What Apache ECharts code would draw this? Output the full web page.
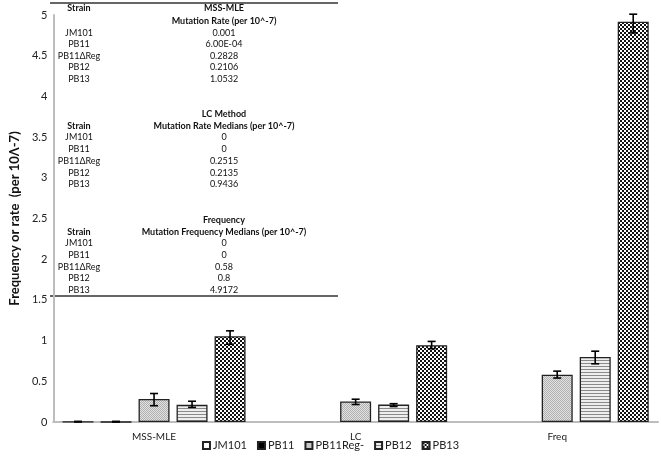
<!DOCTYPE html>
<html><head><meta charset="utf-8">
<script src="https://cdn.jsdelivr.net/npm/echarts@6/dist/echarts.min.js"></script>
<style>html,body{margin:0;padding:0;background:#fff}#c{width:661px;height:460px}</style>
</head><body><div id="c"></div>
<script>
var categories = ['MSS-MLE', 'LC', 'Freq'];
var strains = ['JM101', 'PB11', 'PB11Reg-', 'PB12', 'PB13'];
var jm101 = [0.001, 0, 0];
var pb11 = [0.0006, 0, 0];
var pb11reg = [0.2828, 0.2515, 0.58];
var pb12 = [0.2106, 0.2135, 0.8];
var pb13 = [1.0532, 0.9436, 4.9172];
// error bar lower / upper bounds, per strain per category (null = none)
var errLow = [[0, null, null], [0, null, null], [0.20, 0.215, 0.54], [0.18, 0.19, 0.715], [0.955, 0.90, 4.78]];
var errHigh = [[0.008, null, null], [0.008, null, null], [0.35, 0.28, 0.625], [0.255, 0.225, 0.87], [1.12, 0.99, 5.01]];
var yTicks = {min: 0, max: 5, interval: 0.5};
// inset table
var tableStrains = ['JM101', 'PB11', 'PB11\u0394Reg', 'PB12', 'PB13'];
var mssValues = ['0.001', '6.00E-04', '0.2828', '0.2106', '1.0532'];
var lcValues = ['0', '0', '0.2515', '0.2135', '0.9436'];
var freqValues = ['0', '0', '0.58', '0.8', '4.9172'];

function pattern(w, h, draw) {
  var c = document.createElement('canvas'); c.width = w; c.height = h;
  var g = c.getContext('2d'); draw(g);
  return {image: c, repeat: 'repeat'};
}
var patDots = pattern(2, 2, function (g) {
  g.fillStyle = '#e2e2e2'; g.fillRect(0, 0, 2, 2);
  g.fillStyle = '#b0b0b0'; g.fillRect(0, 0, 1, 1); g.fillRect(1, 1, 1, 1);
});
var patStripes = pattern(3, 3, function (g) {
  g.fillStyle = '#eeeeee'; g.fillRect(0, 0, 3, 3);
  g.fillStyle = '#8a8a8a'; g.fillRect(0, 0, 3, 1);
});
var patCheck = pattern(4, 4, function (g) {
  g.fillStyle = '#ffffff'; g.fillRect(0, 0, 4, 4);
  g.fillStyle = '#111111'; g.fillRect(0, 0, 2, 2); g.fillRect(2, 2, 2, 2);
});
var fills = ['#ffffff', '#000000', patDots, patStripes, patCheck];
var values = [jm101, pb11, pb11reg, pb12, pb13];

var BAR_W = 31, GAP = 7;
var series = strains.map(function (s, i) {
  return {
    name: s, type: 'bar', data: values[i].map(function (v) { return v === 0 ? null : v; }),
    barWidth: BAR_W, barGap: (GAP / BAR_W * 100).toFixed(1) + '%',
    itemStyle: {color: fills[i], borderColor: '#222', borderWidth: 1.3},
    emphasis: {disabled: true}
  };
});
var errData = [];
for (var i = 0; i < strains.length; i++) {
  for (var j = 0; j < categories.length; j++) {
    if (errLow[i][j] !== null) errData.push([j, i, errLow[i][j], errHigh[i][j]]);
  }
}
series.push({
  type: 'custom', silent: true, z: 10,
  data: errData,
  encode: {x: 0, y: [2, 3]},
  renderItem: function (params, api) {
    var cat = api.value(0), si = api.value(1);
    var off = (si - 2) * (BAR_W + GAP);
    var lo = api.coord([cat, api.value(2)]);
    var hi = api.coord([cat, api.value(3)]);
    var x = lo[0] + off, cw = 4;
    var st = {stroke: '#000', lineWidth: 1.6};
    return {type: 'group', children: [
      {type: 'line', shape: {x1: x, y1: lo[1], x2: x, y2: hi[1]}, style: st},
      {type: 'line', shape: {x1: x - cw, y1: lo[1], x2: x + cw, y2: lo[1]}, style: st},
      {type: 'line', shape: {x1: x - cw, y1: hi[1], x2: x + cw, y2: hi[1]}, style: st}
    ]};
  }
});

var FONT = 'Lato, "Open Sans", sans-serif';
var graphics = [];
function txt(t, x, y, bold) {
  graphics.push({type: 'text', x: x, y: y, silent: true, style: {
    text: t, fill: '#111', font: (bold ? 'bold ' : '') + '9px ' + FONT,
    textAlign: 'center', textVerticalAlign: 'middle'}});
}
var C1 = 79, C2 = 224;
txt('Strain', C1, 8, true); txt('MSS-MLE', C2, 8, true);
txt('Mutation Rate (per 10^-7)', C2, 21, true);
tableStrains.forEach(function (s, k) { txt(s, C1, 33 + k * 11.5); txt(mssValues[k], C2, 33 + k * 11.5); });
txt('LC Method', C2, 114, true);
txt('Strain', C1, 126, true); txt('Mutation Rate Medians (per 10^-7)', C2, 126, true);
tableStrains.forEach(function (s, k) { txt(s, C1, 137.5 + k * 11.7); txt(lcValues[k], C2, 137.5 + k * 11.7); });
txt('Frequency', C2, 220.5, true);
txt('Strain', C1, 232, true); txt('Mutation Frequency Medians (per 10^-7)', C2, 232, true);
tableStrains.forEach(function (s, k) { txt(s, C1, 243.5 + k * 11.65); txt(freqValues[k], C2, 243.5 + k * 11.65); });
graphics.push({type: 'line', silent: true, shape: {x1: 50, y1: 3, x2: 338, y2: 3}, style: {stroke: '#333', lineWidth: 1.5}});
graphics.push({type: 'line', silent: true, shape: {x1: 50, y1: 296, x2: 338, y2: 296}, style: {stroke: '#333', lineWidth: 1.5}});

var chart = echarts.init(document.getElementById('c'), null, {renderer: 'canvas'});
chart.setOption({
  animation: false,
  textStyle: {fontFamily: FONT},
  grid: {left: 40, right: 3, top: 15, bottom: 38, containLabel: false},
  legend: {
    data: strains, bottom: 4, left: 'center', itemWidth: 7, itemHeight: 7, itemGap: 10,
    icon: 'rect', textStyle: {fontSize: 11, color: '#222', fontFamily: FONT, padding: [0, 0, 0, -2]},
    selectedMode: false
  },
  xAxis: {
    type: 'category', data: categories,
    axisLine: {lineStyle: {color: '#bdbdbd', width: 2}}, axisTick: {show: false},
    axisLabel: {fontSize: 10, color: '#222', margin: 10}
  },
  yAxis: {
    type: 'value', min: yTicks.min, max: yTicks.max, interval: yTicks.interval,
    name: 'Frequency or rate  (per 10\u039b-7)', nameLocation: 'middle', nameRotate: 90, nameGap: 27,
    nameTextStyle: {fontSize: 13, fontWeight: 'bold', color: '#111', fontFamily: FONT},
    axisLine: {show: true, lineStyle: {color: '#bdbdbd', width: 2}}, axisTick: {show: false},
    splitLine: {show: false},
    axisLabel: {fontSize: 11, color: '#222', margin: 6}
  },
  series: series,
  graphic: graphics
});
</script></body></html>
